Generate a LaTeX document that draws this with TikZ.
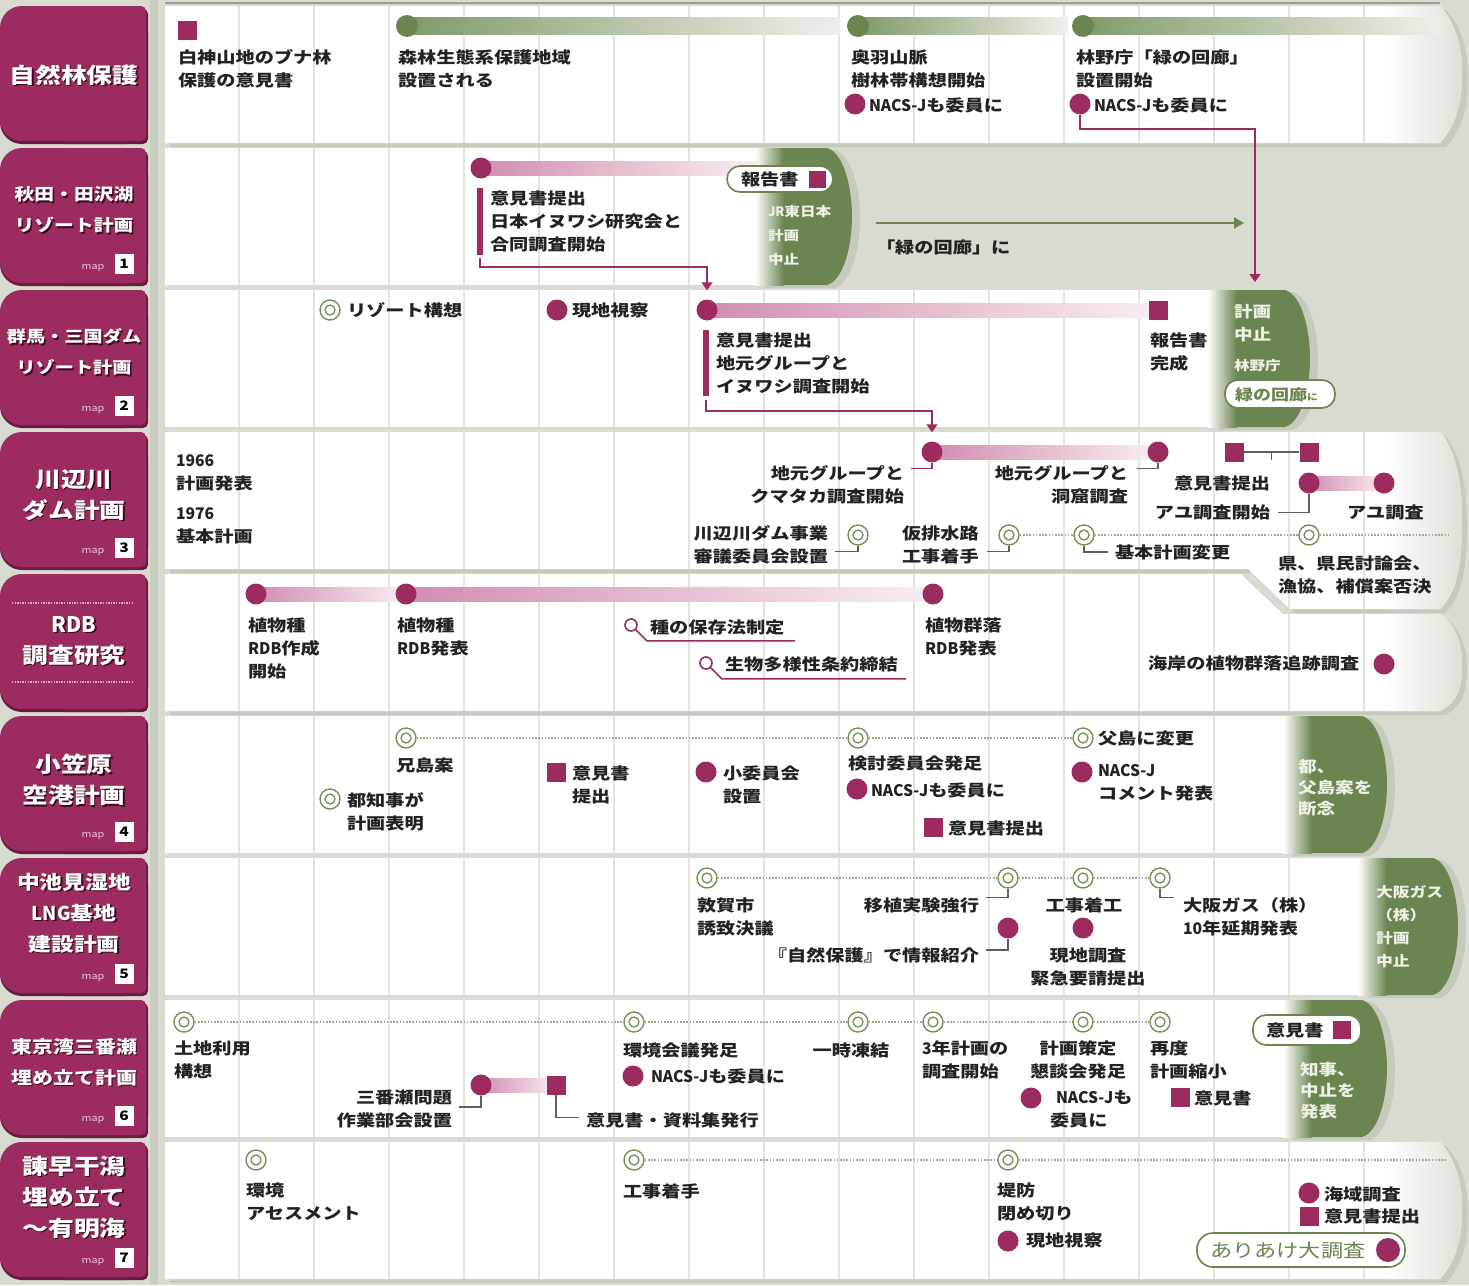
\documentclass[tikz,border=0pt]{standalone}
\usepackage{fontspec}
\setmainfont{Noto Sans CJK JP}[FakeStretch=1.2]
\newfontfamily\lat{Noto Sans CJK JP}[FakeStretch=0.98]
\usetikzlibrary{arrows.meta,calc}
\definecolor{bgc}{HTML}{D8DBCF}
\definecolor{stripc}{HTML}{C9CDC0}
\definecolor{gridc}{HTML}{E3E5DC}
\definecolor{magc}{HTML}{9C2B60}
\definecolor{magd}{HTML}{6A1B40}
\definecolor{titsh}{HTML}{3A0A22}
\definecolor{mapc}{HTML}{F0C8DA}
\definecolor{pinkA}{HTML}{D28DB0}
\definecolor{pinkB}{HTML}{F8EEF3}
\definecolor{greenc}{HTML}{6C8550}
\definecolor{gbarA}{HTML}{819A69}
\definecolor{gbarB}{HTML}{EEF0EA}
\definecolor{ringc}{HTML}{6F9257}
\definecolor{dotc}{HTML}{9EAC8E}
\definecolor{txtc}{HTML}{222222}
\definecolor{capt}{HTML}{EEF1E6}
\definecolor{shadc}{HTML}{C6CABD}
\definecolor{endc}{HTML}{DDE0D6}
\definecolor{conc}{HTML}{5E5E5E}
\definecolor{rdbdot}{HTML}{E0A9C3}
\definecolor{topc}{HTML}{9A9D94}
\pgfdeclarelayer{panels}
\pgfdeclarelayer{mid}
\pgfsetlayers{panels,mid,main}
\newcommand\NJ{{\lat NACS-J}}
\newcommand\txL[4]{\node[tx] (#1) at (#2,#3-7.5) {#4};}
\newcommand\txR[4]{\node[txr] (#1) at (#2,#3-7.5) {#4};}
\newcommand\txC[4]{\node[txc] (#1) at (#2,#3-7.5) {#4};}
\newcommand\rowTitle[4]{%
 \node[ttl, text=titsh, font=\fontsize{#3}{31}\selectfont\bfseries] (#1s) at (75.5,#2+1.5) {#4};
 \node[ttl, font=\fontsize{#3}{31}\selectfont\bfseries] (#1) at (74,#2) {#4};}
\newcommand\rowMap[3]{%
 \node[font=\fontsize{9}{9}\selectfont, text=mapc, inner sep=0pt] (#1a) at (93,#2-17) {map};
 \node[fill=white, minimum width=19pt, minimum height=20pt, inner sep=0pt, font=\fontsize{13}{13}\selectfont\bfseries] (#1b) at (124,#2-21) {#3};}
\newcommand\labelBox[2]{%
 \fill[magd, rounded corners=22pt] (0,#1+3) rectangle (148,#2+1);
 \fill[magd, rounded corners=5pt] (60,#1+3) rectangle (148,#2+1);
 \fill[magc, rounded corners=22pt] (0,#1) rectangle (146,#2-2);
 \fill[magc, rounded corners=5pt] (60,#1) rectangle (146,#2-2);}
\newcommand\greenCap[4]{%
 \fill[shadc] (#1+10,#3+2) -- (#2-17,#3+2) .. controls (#2,#3+8) and (#2+8,#3+40) .. (#2+8,{(#3+#4)/2+2}) .. controls (#2+8,#4-38) and (#2,#4-4) .. (#2-17,#4+3) -- (#1+10,#4+3) -- cycle;
 \fill[greenc] (#1+28,#3) -- (#2-25,#3) .. controls (#2-8,#3+5) and (#2,#3+40) .. (#2,{(#3+#4)/2}) .. controls (#2,#4-40) and (#2-8,#4-5) .. (#2-25,#4) -- (#1+28,#4) -- cycle;
 \shade[left color=white, right color=greenc] (#1,#3) rectangle (#1+28.5,#4);}
\newcommand\roundPanel[2]{%
 \fill[shadc] (170,#1+4) -- (1446,#1+4) .. controls (1464,#1+24) and (1468,#1+49) .. (1468,{(#1+#2)/2+4}) .. controls (1468,#2-41) and (1464,#2-16) .. (1446,#2+4) -- (170,#2+4) -- cycle;
 \fill[white] (165,#1) -- (1440,#1) .. controls (1458,#1+20) and (1462,#1+45) .. (1462,{(#1+#2)/2}) .. controls (1462,#2-45) and (1458,#2-20) .. (1440,#2) -- (165,#2) -- cycle;
 \begin{scope}
 \clip (165,#1) -- (1440,#1) .. controls (1458,#1+20) and (1462,#1+45) .. (1462,{(#1+#2)/2}) .. controls (1462,#2-45) and (1458,#2-20) .. (1440,#2) -- (165,#2) -- cycle;
 \shade[left color=white, right color=endc] (1385,#1) rectangle (1463,#2);
 \foreach \k in {0,...,15} \draw[gridl] ({239+75*\k},#1) -- ({239+75*\k},#2);
 \end{scope}}
\newcommand\rowfour{(165,432) -- (1440,432) .. controls (1458,452) and (1462,490) .. (1462,521) .. controls (1462,560) and (1458,592) .. (1440,609) -- (1290,609) -- (1248,569) -- (165,569) -- cycle}
\newcommand\rowfive{(165,574) -- (1241,574) -- (1283,614) -- (1440,614) .. controls (1456,624) and (1462,645) .. (1462,664) .. controls (1462,690) and (1456,703) .. (1440,711) -- (165,711) -- cycle}
\begin{document}
\begin{tikzpicture}[x=1pt,y=-1pt,
 tx/.style={font=\fontsize{16}{23}\selectfont\bfseries, text=txtc, inner sep=0pt, outer sep=0pt, align=left, anchor=north west, execute at begin node={\rule{0pt}{13.5pt}}},
 txr/.style={tx, align=right, anchor=north east},
 txc/.style={tx, align=center, anchor=north},
 cw/.style={tx, text=capt},
 ttl/.style={inner sep=0pt, align=center, text=white},
 mdot/.style={circle, fill=magc, minimum size=21pt, inner sep=0pt},
 msq/.style={rectangle, fill=magc, minimum size=19pt, inner sep=0pt},
 gdot/.style={circle, fill=greenc, minimum size=22pt, inner sep=0pt},
 ring/.style={circle, draw=ringc, fill=white, line width=1.4pt, minimum size=20pt, inner sep=0pt, path picture={\draw[ringc, line width=1.3pt] (path picture bounding box.center) circle[radius=5pt];}},
 pin/.style={circle, draw=magc, fill=white, line width=1.6pt, minimum size=12pt, inner sep=0pt},
 pill/.style={draw=greenc, line width=1.6pt, fill=white, rounded corners=13pt, inner sep=0pt},
 vbar/.style={fill=magc, minimum width=6pt, inner sep=0pt},
 dotl/.style={draw=dotc, line width=1.6pt, dash pattern=on 1.6pt off 1.6pt},
 conl/.style={draw=conc, line width=1.3pt},
 magl/.style={draw=magc, line width=1.6pt},
 gridl/.style={draw=gridc, line width=1.5pt},
 pbar/.style={left color=pinkA, right color=pinkB},
 gbar/.style={left color=gbarA, right color=gbarB},
 arrowtip/.style={-{Triangle[width=11pt,length=8pt]}}
]
\useasboundingbox (0,0) rectangle (1469,1285);
\begin{pgfonlayer}{panels}
\fill[bgc] (0,0) rectangle (1469,1285);
\fill[stripc] (150,0) rectangle (158,1285);
\labelBox{6}{143}
\labelBox{148}{285}
\labelBox{290}{427}
\labelBox{432}{569}
\labelBox{574}{711}
\labelBox{716}{853}
\labelBox{858}{995}
\labelBox{1000}{1137}
\labelBox{1142}{1279}
\draw[rdbdot, line width=1.3pt, dash pattern=on 1.3pt off 1.3pt] (12,603) -- (134,603);
\draw[rdbdot, line width=1.3pt, dash pattern=on 1.3pt off 1.3pt] (12,682) -- (134,682);
% row 1
\roundPanel{6}{143}
\draw[topc, line width=2pt] (165,3) -- (1440,3);
% row 2
\fill[white] (165,148) rectangle (780,285);
\foreach \k in {0,...,7} \draw[gridl] ({239+75*\k},148) -- ({239+75*\k},285);
\greenCap{755}{852}{148}{285}
% row 3
\fill[white] (165,290) rectangle (1230,427);
\foreach \k in {0,...,13} \draw[gridl] ({239+75*\k},290) -- ({239+75*\k},427);
\greenCap{1208}{1310}{290}{427}
% row 4
\fill[shadc, shift={(5,4)}] \rowfour;
\fill[white] \rowfour;
\begin{scope}
\clip \rowfour;
\shade[left color=white, right color=endc] (1385,432) rectangle (1463,612);
\foreach \k in {0,...,15} \draw[gridl] ({239+75*\k},432) -- ({239+75*\k},612);
\end{scope}
% row 5
\fill[shadc, shift={(5,4)}] \rowfive;
\fill[white] \rowfive;
\begin{scope}
\clip \rowfive;
\shade[left color=white, right color=endc] (1385,574) rectangle (1463,711);
\foreach \k in {0,...,15} \draw[gridl] ({239+75*\k},574) -- ({239+75*\k},711);
\end{scope}
% row 6
\fill[white] (165,716) rectangle (1300,853);
\foreach \k in {0,...,14} \draw[gridl] ({239+75*\k},716) -- ({239+75*\k},853);
\greenCap{1283}{1387}{716}{853}
% row 7
\fill[white] (165,858) rectangle (1375,995);
\foreach \k in {0,...,15} \draw[gridl] ({239+75*\k},858) -- ({239+75*\k},995);
\greenCap{1358}{1458}{858}{995}
% row 8
\fill[white] (165,1000) rectangle (1300,1137);
\foreach \k in {0,...,14} \draw[gridl] ({239+75*\k},1000) -- ({239+75*\k},1137);
\greenCap{1283}{1387}{1000}{1137}
% row 9
\roundPanel{1142}{1279}
\end{pgfonlayer}

% ---------- titles
\rowTitle{h1}{75}{21.5}{自然林保護}
\rowTitle{h2}{210}{16.5}{秋田・田沢湖\\リゾート計画}
\rowTitle{h3}{352}{16}{群馬・三国ダム\\リゾート計画}
\rowTitle{h4}{495}{21.5}{川辺川\\ダム計画}
\rowTitle{h5}{641}{21.5}{{\lat RDB}\\調査研究}
\rowTitle{h6}{780}{21.5}{小笠原\\空港計画}
\rowTitle{h7}{913}{19}{中池見湿地\\{\lat LNG}基地\\建設計画}
\rowTitle{h8}{1062}{17.5}{東京湾三番瀬\\埋め立て計画}
\rowTitle{h9}{1197}{21.5}{諫早干潟\\埋め立て\\〜有明海}
\rowMap{m2}{285}{1}
\rowMap{m3}{427}{2}
\rowMap{m4}{569}{3}
\rowMap{m6}{853}{4}
\rowMap{m7}{995}{5}
\rowMap{m8}{1137}{6}
\rowMap{m9}{1279}{7}

% ---------- row 1
\node[msq] (r1s) at (187,30) {};
\txL{r1t1}{178}{57}{白神山地のブナ林\\保護の意見書}
\node[gdot] (r1g1) at (407,26) {};
\txL{r1t2}{398}{57}{森林生態系保護地域\\設置される}
\node[gdot] (r1g2) at (858,26) {};
\txL{r1t3}{851}{57}{奥羽山脈\\樹林帯構想開始}
\node[mdot] (r1m1) at (855,104) {};
\txL{r1t4}{869}{105}{\NJ も委員に}
\node[gdot] (r1g3) at (1083,26) {};
\txL{r1t5}{1076}{57}{林野庁「緑の回廊」\\設置開始}
\node[mdot] (r1m2) at (1080,104) {};
\txL{r1t6}{1094}{105}{\NJ も委員に}
\coordinate (r1e1) at (840,26);
\coordinate (r1e2) at (1068,26);
\coordinate (r1e3) at (1440,26);

% ---------- row 2
\node[mdot] (r2m1) at (481,168) {};
\coordinate (r2e1) at (760,168);
\node[vbar, minimum height=67pt] (r2v) at (480,221.5) {};
\txL{r2t1}{490}{198}{意見書提出\\日本イヌワシ研究会と\\合同調査開始}
\node[pill, minimum width=106pt, minimum height=26pt] (r2p) at (780,179) {};
\node[tx, anchor=west] (r2pt) at (741,179) {報告書};
\node[msq, minimum size=17pt] (r2ps) at (817,179) {};
\node[cw, font=\fontsize{13}{24}\selectfont\bfseries] (r2c) at (768,213-8) {{\lat JR}東日本\\計画\\中止};
\coordinate (r2a0) at (876,223);
\coordinate (r2a1) at (1244,223);
\txL{r2t2}{876}{247}{「緑の回廊」に}

% ---------- row 3
\node[ring] (r3r1) at (330,310) {};
\txL{r3t1}{347}{310}{リゾート構想}
\node[mdot] (r3m0) at (557,310) {};
\txL{r3t2}{572}{310}{現地視察}
\node[mdot] (r3m1) at (707,310) {};
\node[msq] (r3s1) at (1158,310) {};
\node[vbar, minimum height=66pt] (r3v) at (706,363) {};
\txL{r3t3}{716}{340}{意見書提出\\地元グループと\\イヌワシ調査開始}
\txL{r3t4}{1150}{340}{報告書\\完成}
\node[cw, font=\fontsize{15.5}{23}\selectfont\bfseries] (r3c1) at (1234,312-7.5) {計画\\中止};
\node[cw, font=\fontsize{13}{16}\selectfont\bfseries] (r3c2) at (1234,365-8) {林野庁};
\node[pill, minimum width=110pt, minimum height=28pt] (r3p) at (1280,394) {};
\node[tx, anchor=west, text=greenc, font=\fontsize{15}{18}\selectfont\bfseries] (r3pt) at (1235,394) {緑の回廊{\fontsize{9}{9}\selectfont に}};
\coordinate (cap3top) at (1255,282);

% ---------- row 4
\txL{r4t1}{176}{462}{{\lat 1966}\\計画発表}
\txL{r4t2}{176}{515}{{\lat 1976}\\基本計画}
\node[mdot] (r4m1) at (932,452) {};
\node[mdot] (r4m2) at (1158,452) {};
\txR{r4t3}{904}{473}{地元グループと\\クマタカ調査開始}
\txR{r4t4}{1128}{473}{地元グループと\\洞窟調査}
\node[msq] (r4s1) at (1234,452) {};
\node[msq] (r4s2) at (1309,452) {};
\coordinate (r4mid) at ($(r4s1)!0.5!(r4s2)$);
\txR{r4t5}{1270}{483}{意見書提出}
\node[mdot] (r4m3) at (1309,483) {};
\node[mdot] (r4m4) at (1384,483) {};
\txR{r4t6}{1270}{512}{アユ調査開始}
\txL{r4t7}{1347}{512}{アユ調査}
\node[ring] (r4r1) at (858,535) {};
\node[ring] (r4r2) at (1009,535) {};
\node[ring] (r4r3) at (1084,535) {};
\node[ring] (r4r4) at (1309,535) {};
\coordinate (r4e) at (1448,535);
\txR{r4t8}{828}{533}{川辺川ダム事業\\審議委員会設置}
\txL{r4t9}{902}{533}{仮排水路\\工事着手}
\txL{r4t10}{1115}{552}{基本計画変更}
\txL{r4t11}{1278}{563}{県、県民討論会、\\漁協、補償案否決}

% ---------- row 5
\node[mdot] (r5m1) at (256,594) {};
\node[mdot] (r5m2) at (406,594) {};
\node[mdot] (r5m3) at (933,594) {};
\txL{r5t1}{248}{625}{植物種\\{\lat RDB}作成\\開始}
\txL{r5t2}{397}{625}{植物種\\{\lat RDB}発表}
\txL{r5t3}{925}{625}{植物群落\\{\lat RDB}発表}
\node[pin] (r5p1) at (631,625) {};
\coordinate (r5u1) at (795,640);
\txL{r5t4}{650}{627}{種の保存法制定}
\node[pin] (r5p2) at (706,663) {};
\coordinate (r5u2) at (906,677);
\txL{r5t5}{725}{664}{生物多様性条約締結}
\txL{r5t6}{1148}{663}{海岸の植物群落追跡調査}
\node[mdot] (r5m4) at (1384,664) {};

% ---------- row 6
\node[ring] (r6r1) at (406,738) {};
\node[ring] (r6r2) at (858,738) {};
\node[ring] (r6r3) at (1083,738) {};
\txL{r6t1}{396}{765}{兄島案}
\node[ring] (r6r4) at (330,799) {};
\txL{r6t2}{347}{800}{都知事が\\計画表明}
\node[msq] (r6s1) at (556,772) {};
\txL{r6t3}{572}{773}{意見書\\提出}
\node[mdot] (r6m1) at (706,772) {};
\txL{r6t4}{723}{773}{小委員会\\設置}
\txL{r6t5}{848}{763}{検討委員会発足}
\node[mdot] (r6m2) at (857,789) {};
\txL{r6t6}{871}{790}{\NJ も委員に}
\node[msq] (r6s2) at (933,827) {};
\txL{r6t7}{948}{828}{意見書提出}
\txL{r6t8}{1098}{738}{父島に変更}
\node[mdot] (r6m3) at (1082,772) {};
\txL{r6t9}{1098}{772}{\NJ\\コメント発表}
\node[cw, font=\fontsize{15.5}{21}\selectfont\bfseries] (r6c) at (1298,767-7.5) {都、\\父島案を\\断念};

% ---------- row 7
\node[ring] (r7r1) at (707,878) {};
\node[ring] (r7r2) at (1008,878) {};
\node[ring] (r7r3) at (1083,878) {};
\node[ring] (r7r4) at (1160,878) {};
\txL{r7t1}{697}{905}{敦賀市\\誘致決議}
\txR{r7t2}{979}{905}{移植実験強行}
\txC{r7t3}{1084}{905}{工事着工}
\txL{r7t4}{1183}{905}{大阪ガス（株）\\{\lat 10}年延期発表}
\node[mdot] (r7m1) at (1008,928) {};
\node[mdot] (r7m2) at (1083,928) {};
\txR{r7t5}{979}{955}{『自然保護』で情報紹介}
\txC{r7t6}{1088}{955}{現地調査\\緊急要請提出}
\node[cw, font=\fontsize{14}{23}\selectfont\bfseries] (r7c) at (1376,893-8) {大阪ガス\\（株）\\計画\\中止};

% ---------- row 8
\node[ring] (r8r1) at (184,1022) {};
\node[ring] (r8r2) at (634,1022) {};
\node[ring] (r8r3) at (858,1022) {};
\node[ring] (r8r4) at (933,1022) {};
\node[ring] (r8r5) at (1083,1022) {};
\node[ring] (r8r6) at (1160,1022) {};
\txL{r8t1}{174}{1048}{土地利用\\構想}
\txL{r8t2}{623}{1050}{環境会議発足}
\node[mdot] (r8m1) at (633,1076) {};
\txL{r8t3}{651}{1076}{\NJ も委員に}
\node[mdot] (r8m2) at (481,1085) {};
\node[msq] (r8s1) at (556,1085) {};
\txR{r8t4}{452}{1097}{三番瀬問題\\作業部会設置}
\txL{r8t5}{586}{1120}{意見書・資料集発行}
\txC{r8t6}{851}{1050}{一時凍結}
\txL{r8t7}{922}{1048}{{\lat 3}年計画の\\調査開始}
\txC{r8t8}{1078}{1048}{計画策定\\懇談会発足}
\node[mdot] (r8m3) at (1031,1098) {};
\txL{r8t9}{1050}{1098}{\hspace{6pt}\NJ も\\委員に}
\txL{r8t10}{1150}{1048}{再度\\計画縮小}
\node[msq] (r8s2) at (1180,1097) {};
\txL{r8t11}{1194}{1098}{意見書}
\node[pill, minimum width=108pt, minimum height=30pt] (r8p) at (1307,1030) {};
\node[tx, anchor=west] (r8pt) at (1266,1030) {意見書};
\node[msq, minimum size=18pt] (r8ps) at (1342,1030) {};
\node[cw, font=\fontsize{15.5}{21}\selectfont\bfseries] (r8c) at (1300,1070-7.5) {知事、\\中止を\\発表};

% ---------- row 9
\node[ring] (r9r1) at (256,1160) {};
\node[ring] (r9r2) at (634,1160) {};
\node[ring] (r9r3) at (1008,1160) {};
\coordinate (r9e) at (1447,1160);
\txL{r9t1}{246}{1190}{環境\\アセスメント}
\txL{r9t2}{623}{1191}{工事着手}
\txL{r9t3}{997}{1190}{堤防\\閉め切り}
\node[mdot] (r9m1) at (1008,1241) {};
\txL{r9t4}{1026}{1240}{現地視察}
\node[mdot] (r9m2) at (1309,1193) {};
\txL{r9t5}{1324}{1194}{海域調査}
\node[msq] (r9s1) at (1309,1216) {};
\txL{r9t6}{1324}{1216}{意見書提出}
\node[pill, minimum width=208pt, minimum height=34pt, rounded corners=16pt] (r9p) at (1301,1250) {};
\node[tx, anchor=west, text=greenc, font=\fontsize{18.5}{20}\selectfont] (r9pt) at (1210,1251) {ありあけ大調査};
\node[mdot, minimum size=24pt] (r9pm) at (1388,1250) {};

% ---------- bars and connectors
\begin{pgfonlayer}{mid}
\shade[gbar] ([yshift=8.5pt]r1g1.center) rectangle ([yshift=-8.5pt]r1e1);
\shade[gbar] ([yshift=8.5pt]r1g2.center) rectangle ([yshift=-8.5pt]r1e2);
\shade[gbar] ([yshift=8.5pt]r1g3.center) rectangle ([yshift=-8.5pt]r1e3);
\draw[magl, arrowtip] (r1m2.south) -- ++(0,14) -| (cap3top);
\shade[pbar] ([yshift=7pt]r2m1.center) rectangle ([yshift=-7pt]r2e1);
\draw[magl, arrowtip] ([yshift=-3pt]r2v.south) -- ([yshift=-12pt]r2v.south) -| ([yshift=9pt]r3m1.north);
\draw[greenc, line width=2pt, -{Triangle[width=11pt,length=10pt]}] (r2a0) -- (r2a1);
\shade[pbar] ([yshift=7pt]r3m1.center) rectangle ([yshift=-7pt]r3s1.center);
\draw[magl, arrowtip] ([yshift=-4pt]r3v.south) -- ([yshift=-15pt]r3v.south) -| ([yshift=9pt]r4m1.north);
\shade[pbar] ([yshift=7pt]r4m1.center) rectangle ([yshift=-7pt]r4m2.center);
\shade[pbar] ([yshift=7pt]r4m3.center) rectangle ([yshift=-7pt]r4m4.center);
\draw[magl] (r4m1.south) |- ([xshift=7pt,yshift=-3pt]r4t3.north east);
\draw[conl] (r4m2.south) |- ([xshift=9pt,yshift=-3pt]r4t4.north east);
\draw[conl] (r4s1) -- (r4s2);
\draw[conl] (r4mid) -- ++(0,8);
\draw[conl] (r4m3.south) |- ([xshift=8pt]r4t6.east);
\draw[dotl] (r4r2) -- (r4r3) -- (r4r4) -- (r4e);
\draw[conl] (r4r1.south) |- ([xshift=7pt,yshift=-26pt]r4t8.north east);
\draw[conl] (r4r2.south) |- ([xshift=8pt,yshift=-26pt]r4t9.north east);
\draw[conl] (r4r3.south) |- ([xshift=-7pt]r4t10.west);
\shade[pbar] ([yshift=7pt]r5m1.center) rectangle ([yshift=-7pt]r5m2.center);
\shade[pbar] ([yshift=7pt]r5m2.center) rectangle ([yshift=-7pt]r5m3.center);
\draw[magl] (r5p1.south east) -- ++(11,11) coordinate (r5k1) -- (r5k1 -| r5u1);
\draw[magl] (r5p2.south east) -- ++(11,11) coordinate (r5k2) -- (r5k2 -| r5u2);
\draw[dotl] (r6r1) -- (r6r2) -- (r6r3);
\draw[dotl] (r7r1) -- (r7r2) -- (r7r3) -- (r7r4);
\draw[conl] (r7r2.south) |- ([xshift=7pt]r7t2.north east);
\draw[conl] (r7r4.south) |- ([xshift=-9pt]r7t4.north west);
\draw[conl] (r7m1.south) |- ([xshift=7pt,yshift=-2.5pt]r7t5.north east);
\draw[dotl] (r8r1) -- (r8r2) -- (r8r3) -- (r8r4) -- (r8r5) -- (r8r6);
\shade[pbar] ([yshift=7pt]r8m2.center) rectangle ([yshift=-7pt]r8s1.center);
\draw[conl] (r8m2.south) |- ([xshift=7pt,yshift=-17.5pt]r8t4.north east);
\draw[conl] (r8s1.south) |- ([xshift=-7pt,yshift=3pt]r8t5.west);
\draw[dotl] (r9r2) -- (r9r3) -- (r9e);
\end{pgfonlayer}
\end{tikzpicture}
\end{document}
